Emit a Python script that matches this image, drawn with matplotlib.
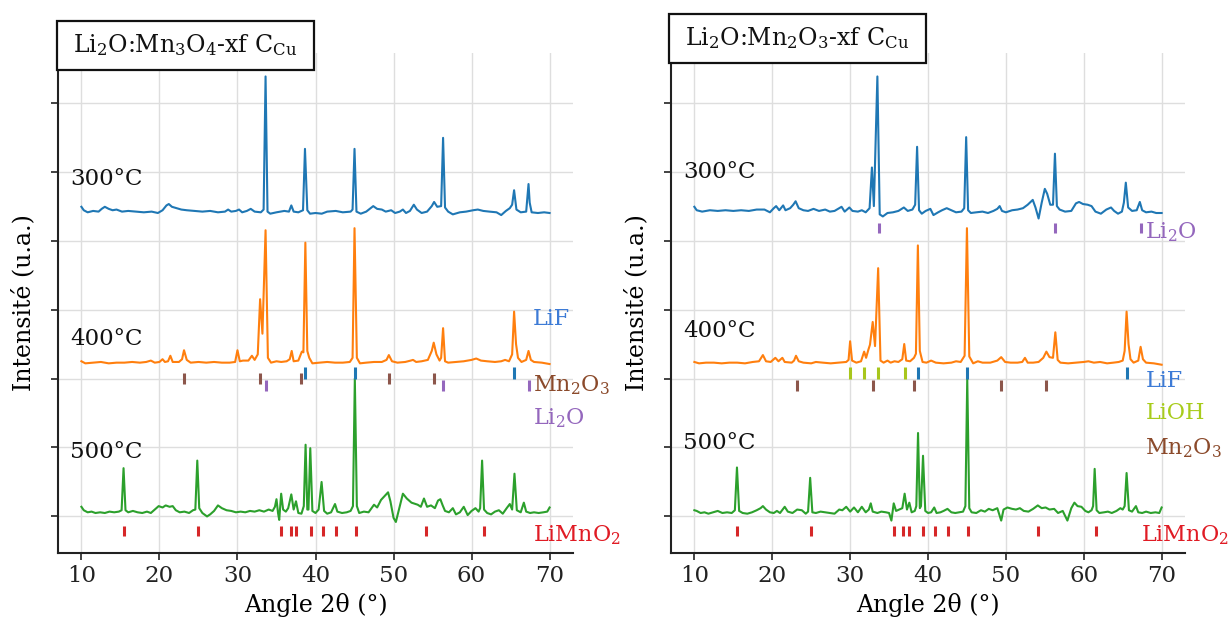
import matplotlib
matplotlib.use("Agg")
import matplotlib.pyplot as plt
from matplotlib.patches import Rectangle

plt.rcParams['font.family'] = ['DejaVu Serif']
plt.rcParams['mathtext.default'] = 'regular'

# ---------------- data ----------------
# Left panel: Li2O:Mn3O4-xf C_Cu
L300_x = [10.0, 10.3, 10.8, 11.5, 12.2, 12.6, 13.0, 13.5, 14.0, 14.5, 15.2, 16.0, 17.0, 18.0, 19.0, 19.8, 20.4, 20.9, 21.2, 21.6,
          22.2, 22.8, 23.5, 24.5, 25.5, 26.5, 27.5, 28.4, 28.8, 29.2, 29.8, 30.2, 30.6, 31.2, 31.7, 32.2, 33.0, 33.35, 33.6, 33.85,
          34.2, 35.0, 36.0, 36.6, 36.9, 37.2, 37.8, 38.4, 38.65, 38.95, 39.3, 40.0, 40.8, 41.5, 42.6, 43.5, 44.5, 44.75, 45.0, 45.25,
          45.8, 46.5, 47.4, 47.9, 48.5, 49.0, 49.7, 50.2, 50.8, 51.2, 51.6, 52.1, 52.6, 53.0, 53.6, 54.3, 54.9, 55.2, 55.6, 56.1,
          56.35, 56.6, 57.0, 57.6, 58.5, 59.3, 60.2, 60.8, 61.5, 62.3, 63.2, 63.8, 64.4, 64.9, 65.2, 65.45, 65.75, 66.3, 67.0, 67.3,
          67.45, 67.7, 68.5, 69.3, 70.0]
L300_y = [4.49, 4.44, 4.41, 4.43, 4.42, 4.46, 4.49, 4.46, 4.44, 4.45, 4.42, 4.43, 4.42, 4.41, 4.42, 4.40, 4.44, 4.51, 4.53, 4.49,
          4.47, 4.45, 4.44, 4.43, 4.42, 4.43, 4.41, 4.42, 4.45, 4.42, 4.43, 4.45, 4.41, 4.43, 4.46, 4.42, 4.41, 4.45, 6.38, 4.42,
          4.39, 4.41, 4.43, 4.42, 4.51, 4.42, 4.41, 4.44, 5.33, 4.44, 4.39, 4.40, 4.39, 4.42, 4.43, 4.41, 4.42, 4.45, 5.33, 4.42,
          4.39, 4.42, 4.50, 4.46, 4.45, 4.42, 4.44, 4.40, 4.42, 4.45, 4.40, 4.43, 4.52, 4.45, 4.40, 4.42, 4.50, 4.56, 4.49, 4.50,
          5.49, 4.48, 4.42, 4.38, 4.41, 4.42, 4.44, 4.45, 4.43, 4.42, 4.41, 4.37, 4.43, 4.47, 4.52, 4.73, 4.45, 4.41, 4.42, 4.82,
          4.55, 4.41, 4.40, 4.41, 4.40]

L400_x = [10.0, 10.5, 11.5, 12.5, 13.5, 14.5, 15.5, 16.5, 17.5, 18.3, 18.9, 19.4, 20.0, 20.4, 20.7, 21.1, 21.4, 21.7, 22.5, 22.9,
          23.15, 23.5, 24.0, 25.0, 26.0, 27.0, 28.0, 29.0, 29.7, 30.0, 30.3, 30.7, 31.4, 31.85, 32.2, 32.6, 32.9, 33.2, 33.6, 33.9,
          34.3, 35.0, 35.6, 36.3, 36.7, 36.95, 37.2, 37.8, 38.25, 38.45, 38.7, 38.95, 39.2, 39.6, 40.5, 41.5, 42.5, 43.5, 44.4, 44.75,
          45.0, 45.3, 45.7, 46.5, 47.5, 48.5, 49.1, 49.4, 49.8, 50.5, 51.5, 52.2, 52.5, 52.9, 53.6, 54.4, 54.9, 55.15, 55.5, 55.9,
          56.1, 56.35, 56.6, 57.0, 58.0, 59.0, 60.0, 60.6, 61.2, 62.0, 63.0, 63.8, 64.3, 64.8, 65.2, 65.45, 65.7, 65.95, 66.4, 67.0,
          67.3, 67.6, 68.0, 69.0, 70.0]
L400_y = [2.25, 2.22, 2.23, 2.24, 2.22, 2.23, 2.23, 2.24, 2.23, 2.24, 2.26, 2.23, 2.24, 2.28, 2.24, 2.25, 2.33, 2.24, 2.24, 2.28,
          2.41, 2.27, 2.23, 2.24, 2.23, 2.24, 2.23, 2.23, 2.24, 2.41, 2.25, 2.26, 2.26, 2.33, 2.27, 2.35, 3.15, 2.65, 4.15, 2.30,
          2.23, 2.25, 2.24, 2.25, 2.28, 2.40, 2.25, 2.26, 2.39, 2.38, 3.97, 2.40, 2.30, 2.22, 2.23, 2.24, 2.23, 2.23, 2.24, 2.30,
          4.18, 2.30, 2.22, 2.23, 2.24, 2.24, 2.27, 2.34, 2.25, 2.23, 2.24, 2.26, 2.27, 2.24, 2.25, 2.27, 2.40, 2.52, 2.35, 2.26,
          2.30, 2.73, 2.25, 2.23, 2.24, 2.25, 2.27, 2.29, 2.26, 2.25, 2.24, 2.25, 2.27, 2.25, 2.35, 2.97, 2.50, 2.30, 2.24, 2.27,
          2.40, 2.27, 2.24, 2.23, 2.21]

L500_x = [10.0, 10.3, 10.8, 11.3, 11.8, 12.4, 13.0, 13.6, 14.2, 14.8, 15.15, 15.4, 15.65, 16.0, 16.6, 17.2, 17.8, 18.4, 18.9, 19.4,
          19.9, 20.4, 20.8, 21.3, 21.7, 22.1, 22.6, 23.2, 23.8, 24.3, 24.6, 24.85, 25.1, 25.5, 26.1, 26.5, 27.0, 27.5, 28.0, 28.6,
          29.2, 29.8, 30.4, 31.0, 31.6, 32.2, 32.8, 33.4, 34.0, 34.5, 34.8, 35.0, 35.2, 35.35, 35.6, 35.85, 36.2, 36.5, 36.9, 37.2,
          37.5, 37.8, 38.2, 38.5, 38.73, 38.95, 39.1, 39.33, 39.6, 40.0, 40.4, 40.78, 41.1, 41.5, 42.0, 42.5, 42.8, 43.4, 44.0, 44.5,
          44.8, 45.04, 45.3, 45.6, 46.2, 46.8, 47.5, 47.9, 48.4, 48.9, 49.3, 49.6, 50.0, 50.3, 50.7, 51.2, 51.7, 52.3, 53.1, 53.5,
          53.9, 54.3, 54.8, 55.3, 55.7, 56.0, 56.3, 56.6, 57.1, 57.6, 58.0, 58.5, 59.0, 59.5, 60.0, 60.5, 60.9, 61.1, 61.35, 61.6,
          62.0, 62.5, 63.0, 63.5, 64.0, 64.5, 64.9, 65.2, 65.5, 65.8, 66.3, 66.7, 67.0, 67.5, 68.0, 68.6, 69.2, 69.7, 70.0]
L500_y = [0.14, 0.09, 0.06, 0.07, 0.05, 0.06, 0.05, 0.07, 0.06, 0.07, 0.09, 0.70, 0.09, 0.06, 0.08, 0.06, 0.05, 0.07, 0.05, 0.10,
          0.15, 0.13, 0.16, 0.14, 0.15, 0.09, 0.06, 0.07, 0.05, 0.09, 0.10, 0.81, 0.12, 0.05, 0.00, 0.03, 0.08, 0.16, 0.12, 0.09,
          0.08, 0.06, 0.07, 0.06, 0.08, 0.07, 0.09, 0.07, 0.10, 0.08, 0.14, 0.25, 0.05, -0.05, 0.33, 0.10, 0.07, 0.12, 0.32, 0.10,
          0.22, 0.05, 0.04, 0.15, 1.04, 0.10, 0.10, 0.99, 0.08, 0.05, 0.10, 0.50, 0.08, 0.04, 0.06, 0.18, 0.07, 0.05, 0.06, 0.08,
          0.15, 2.00, 0.15, 0.05, 0.07, 0.06, 0.17, 0.13, 0.24, 0.30, 0.35, 0.22, -0.02, -0.08, 0.10, 0.33, 0.26, 0.20, 0.17, 0.14,
          0.26, 0.14, 0.16, 0.12, 0.23, 0.25, 0.16, 0.08, 0.06, 0.12, 0.03, 0.06, 0.14, 0.02, 0.08, 0.12, 0.07, 0.12, 0.81, 0.10,
          0.05, 0.03, 0.07, 0.09, 0.04, 0.12, 0.18, 0.10, 0.62, 0.09, 0.06, 0.20, 0.07, 0.05, 0.06, 0.05, 0.06, 0.07, 0.13]

# Right panel: Li2O:Mn2O3-xf C_Cu
R300_x = [10.0, 10.3, 11.0, 12.0, 13.0, 14.0, 15.0, 16.0, 17.0, 18.0, 19.0, 19.7, 20.2, 20.5, 20.9, 21.4, 21.7, 22.3, 22.7, 23.0,
          23.4, 24.0, 24.6, 25.3, 26.0, 26.8, 27.4, 28.0, 28.6, 28.9, 29.3, 29.9, 30.3, 31.0, 31.5, 32.0, 32.5, 32.8, 33.05, 33.5,
          33.8, 34.2, 34.8, 35.5, 36.2, 36.9, 37.4, 38.0, 38.35, 38.6, 38.85, 39.2, 39.7, 40.3, 40.7, 41.3, 41.8, 42.4, 43.0, 43.6,
          44.3, 44.65, 44.9, 45.15, 45.5, 46.2, 47.0, 47.7, 48.4, 48.9, 49.2, 49.5, 50.0, 50.8, 51.5, 52.2, 52.8, 53.45, 53.8, 54.2,
          54.6, 55.0, 55.3, 55.7, 56.05, 56.3, 56.55, 56.9, 57.6, 58.4, 59.0, 59.4, 59.9, 60.5, 61.0, 61.5, 62.2, 62.9, 63.5, 63.9,
          64.4, 64.9, 65.15, 65.4, 65.7, 66.2, 66.8, 67.2, 67.5, 68.0, 68.7, 69.3, 70.0]
R300_y = [4.49, 4.44, 4.42, 4.44, 4.43, 4.44, 4.43, 4.44, 4.43, 4.45, 4.45, 4.41, 4.47, 4.50, 4.44, 4.51, 4.44, 4.47, 4.52, 4.57,
          4.47, 4.44, 4.43, 4.46, 4.43, 4.45, 4.42, 4.43, 4.47, 4.49, 4.42, 4.48, 4.43, 4.42, 4.44, 4.41, 4.47, 5.06, 4.50, 6.38,
          4.38, 4.35, 4.40, 4.41, 4.43, 4.48, 4.43, 4.45, 4.52, 5.36, 4.44, 4.39, 4.43, 4.46, 4.37, 4.41, 4.44, 4.47, 4.44, 4.41,
          4.42, 4.47, 5.50, 4.44, 4.40, 4.41, 4.42, 4.40, 4.43, 4.46, 4.50, 4.43, 4.41, 4.44, 4.45, 4.47, 4.52, 4.59, 4.48, 4.32,
          4.55, 4.75, 4.68, 4.52, 4.52, 5.26, 4.50, 4.45, 4.42, 4.43, 4.54, 4.56, 4.53, 4.52, 4.50, 4.42, 4.39, 4.45, 4.48, 4.43,
          4.39, 4.42, 4.55, 4.84, 4.48, 4.43, 4.44, 4.56, 4.44, 4.41, 4.42, 4.40, 4.40]

R400_x = [10.0, 10.6, 11.5, 12.5, 13.5, 14.5, 15.5, 16.5, 17.5, 18.3, 18.8, 19.2, 19.8, 20.4, 20.8, 21.3, 21.6, 22.5, 22.8, 23.05,
          23.4, 24.0, 25.0, 25.6, 26.5, 27.5, 28.5, 29.5, 29.8, 30.0, 30.25, 30.8, 31.4, 31.8, 32.05, 32.35, 32.55, 32.9, 33.2, 33.6,
          33.9, 34.3, 34.8, 35.2, 35.7, 36.2, 36.7, 36.95, 37.2, 37.7, 38.2, 38.45, 38.7, 38.95, 39.3, 39.8, 40.4, 41.0, 42.0, 43.0,
          43.6, 44.2, 44.7, 45.0, 45.3, 45.8, 46.4, 47.0, 48.0, 48.9, 49.4, 49.9, 50.6, 51.5, 52.1, 52.45, 52.8, 53.5, 54.2, 54.8,
          55.2, 55.6, 56.05, 56.35, 56.65, 57.0, 58.0, 59.0, 60.0, 60.6, 61.3, 62.1, 63.0, 63.8, 64.5, 65.0, 65.25, 65.5, 65.75, 66.0,
          66.4, 67.0, 67.3, 67.6, 68.0, 69.0, 70.0]
R400_y = [2.24, 2.22, 2.23, 2.23, 2.22, 2.23, 2.23, 2.22, 2.24, 2.25, 2.34, 2.25, 2.24, 2.30, 2.25, 2.30, 2.24, 2.23, 2.26, 2.33,
          2.25, 2.23, 2.22, 2.24, 2.23, 2.22, 2.23, 2.24, 2.27, 2.54, 2.26, 2.23, 2.25, 2.39, 2.30, 2.42, 2.49, 2.82, 2.47, 3.60,
          2.26, 2.23, 2.26, 2.23, 2.25, 2.24, 2.28, 2.50, 2.26, 2.25, 2.30, 2.36, 3.93, 2.40, 2.24, 2.23, 2.26, 2.23, 2.22, 2.23,
          2.25, 2.24, 2.33, 4.18, 2.32, 2.22, 2.25, 2.23, 2.23, 2.26, 2.31, 2.24, 2.23, 2.23, 2.24, 2.30, 2.23, 2.23, 2.24, 2.30,
          2.39, 2.31, 2.30, 2.67, 2.27, 2.23, 2.22, 2.23, 2.24, 2.25, 2.23, 2.24, 2.22, 2.23, 2.24, 2.26, 2.40, 2.97, 2.50, 2.28,
          2.23, 2.26, 2.46, 2.28, 2.23, 2.22, 2.20]

R500_x = [10.0, 10.3, 10.8, 11.3, 11.8, 12.4, 13.0, 13.6, 14.2, 14.8, 15.2, 15.47, 15.75, 16.2, 16.8, 17.4, 18.0, 18.5, 18.8, 19.2,
          19.7, 20.2, 20.6, 21.0, 21.6, 22.0, 22.6, 23.2, 23.8, 24.3, 24.6, 24.87, 25.15, 25.6, 26.2, 26.8, 27.4, 28.0, 28.6, 29.0,
          29.5, 30.0, 30.5, 31.0, 31.5, 32.0, 32.4, 32.65, 32.9, 33.5, 34.0, 34.6, 35.0, 35.3, 35.6, 35.9, 36.3, 36.7, 37.0, 37.3,
          37.6, 37.9, 38.3, 38.5, 38.72, 38.95, 39.1, 39.36, 39.65, 40.0, 40.4, 40.8, 41.1, 41.6, 42.0, 42.5, 43.0, 43.5, 44.0, 44.5,
          44.8, 45.04, 45.3, 45.6, 46.2, 46.8, 47.3, 47.8, 48.3, 48.9, 49.4, 49.7, 50.2, 50.8, 51.3, 51.8, 52.3, 52.9, 53.5, 54.1,
          54.6, 55.1, 55.6, 56.2, 56.7, 57.3, 57.9, 58.4, 58.8, 59.2, 59.7, 60.2, 60.6, 61.0, 61.2, 61.4, 61.65, 62.0, 62.6, 63.1,
          63.6, 64.2, 64.7, 65.0, 65.25, 65.5, 65.8, 66.2, 66.7, 67.0, 67.5, 68.0, 68.6, 69.2, 69.7, 70.0]
R500_y = [0.09, 0.08, 0.05, 0.06, 0.04, 0.06, 0.08, 0.05, 0.06, 0.05, 0.09, 0.71, 0.08, 0.05, 0.04, 0.06, 0.09, 0.12, 0.15, 0.10,
          0.06, 0.05, 0.08, 0.05, 0.14, 0.07, 0.05, 0.10, 0.09, 0.04, 0.07, 0.56, 0.06, 0.05, 0.07, 0.06, 0.05, 0.04, 0.10, 0.09,
          0.14, 0.07, 0.13, 0.06, 0.14, 0.06, 0.10, 0.19, 0.07, 0.05, 0.07, 0.06, 0.05, -0.06, 0.19, 0.08, 0.10, 0.12, 0.33, 0.10,
          0.20, 0.06, 0.08, 0.15, 1.21, 0.12, 0.15, 0.88, 0.08, 0.05, 0.06, 0.13, 0.05, 0.06, 0.08, 0.11, 0.06, 0.05, 0.06, 0.07,
          0.15, 2.00, 0.12, 0.06, 0.05, 0.09, 0.07, 0.11, 0.09, 0.12, -0.06, 0.10, 0.13, 0.11, 0.10, 0.12, 0.08, 0.07, 0.11, 0.16,
          0.12, 0.13, 0.10, 0.11, 0.05, 0.08, -0.06, 0.12, 0.20, 0.15, 0.14, 0.08, 0.06, 0.09, 0.15, 0.69, 0.09, 0.05, 0.06, 0.07,
          0.05, 0.08, 0.12, 0.10, 0.15, 0.63, 0.09, 0.07, 0.15, 0.06, 0.05, 0.07, 0.05, 0.06, 0.05, 0.13]

# reference peak positions (2theta)
ref_LiF = [38.7, 45.0, 65.5]
ref_Mn2O3 = [23.2, 32.9, 38.2, 49.4, 55.2]
ref_Li2O = [33.7, 56.3, 67.3]
ref_LiOH = [30.0, 31.8, 33.6, 37.0]
ref_LiMnO2 = [15.5, 25.0, 35.6, 36.8, 37.5, 39.4, 40.9, 42.6, 45.2, 54.1, 61.6]

temperatures = ["300°C", "400°C", "500°C"]
xticks = [10, 20, 30, 40, 50, 60, 70]
titles = ["Li$_2$O:Mn$_3$O$_4$-xf C$_{Cu}$", "Li$_2$O:Mn$_2$O$_3$-xf C$_{Cu}$"]

# ---------------- styling ----------------
C_BLUE, C_ORANGE, C_GREEN = '#1f77b4', '#ff7f0e', '#2ca02c'
C_RED, C_BROWN, C_PURPLE, C_OLIVE = '#d62728', '#8c564b', '#9467bd', '#a8c61c'
LBL_LIF, LBL_MN, LBL_LIOH, LBL_RED = '#3d7bd6', '#8b4a2b', '#a8cc1c', '#e01b24'

W, H = 1229, 623
fig = plt.figure(figsize=(W / 100, H / 100), dpi=100)
axL = fig.add_axes([58 / W, 1 - 553 / H, 515 / W, 500 / H])
axR = fig.add_axes([671 / W, 1 - 553 / H, 514 / W, 500 / H])

FS = 16.5

def setup(ax):
    ax.set_xlim(7, 73)
    ax.set_ylim(-0.53, 6.72)
    ax.set_xticks(xticks)
    ax.set_yticks([0, 1, 2, 3, 4, 5, 6])
    ax.set_yticklabels([])
    ax.grid(True, color='#dedede', lw=1.0)
    ax.set_axisbelow(True)
    for s in ['top', 'right']:
        ax.spines[s].set_visible(False)
    for s in ['left', 'bottom']:
        ax.spines[s].set_linewidth(1.5)
        ax.spines[s].set_color('#222222')
    ax.tick_params(axis='both', length=5, width=1.2, labelsize=FS, pad=4, colors='#222222')
    ax.set_xlabel("Angle 2θ (°)", fontsize=17)
    ax.set_ylabel("Intensité (u.a.)", fontsize=17)
    ax.xaxis.set_label_coords(0.5, -0.08)
    ax.yaxis.set_label_coords(-0.044, 0.5)

for ax in (axL, axR):
    setup(ax)

LW = 1.5
# left curves
axL.plot(L300_x, L300_y, color=C_BLUE, lw=LW)
axL.plot(L400_x, L400_y, color=C_ORANGE, lw=LW)
axL.plot(L500_x, L500_y, color=C_GREEN, lw=LW)
# right curves
axR.plot(R300_x, R300_y, color=C_BLUE, lw=LW)
axR.plot(R400_x, R400_y, color=C_ORANGE, lw=LW)
axR.plot(R500_x, R500_y, color=C_GREEN, lw=LW)

TW = 2.2
# left reference ticks
axL.vlines(ref_LiF, 2.0, 2.17, color=C_BLUE, lw=TW)
axL.vlines(ref_Mn2O3, 1.92, 2.08, color=C_BROWN, lw=TW)
axL.vlines(ref_Li2O, 1.82, 1.98, color=C_PURPLE, lw=TW)
axL.vlines(ref_LiMnO2, -0.29, -0.14, color=C_RED, lw=TW)
# right reference ticks
axR.vlines(ref_Li2O, 4.11, 4.25, color=C_PURPLE, lw=TW)
axR.vlines(ref_LiOH, 2.0, 2.17, color=C_OLIVE, lw=TW)
axR.vlines(ref_LiF, 2.0, 2.17, color=C_BLUE, lw=TW)
axR.vlines(ref_Mn2O3, 1.82, 1.98, color=C_BROWN, lw=TW)
axR.vlines(ref_LiMnO2, -0.29, -0.14, color=C_RED, lw=TW)

# phase labels
kw = dict(fontsize=16, va='center', ha='left', clip_on=False)
axL.text(67.9, 2.86, "LiF", color=LBL_LIF, **kw)
axL.text(67.9, 1.90, "Mn$_2$O$_3$", color=LBL_MN, **kw)
axL.text(67.9, 1.43, "Li$_2$O", color=C_PURPLE, **kw)
axL.text(67.9, -0.27, "LiMnO$_2$", color=LBL_RED, **kw)
axR.text(67.9, 4.12, "Li$_2$O", color=C_PURPLE, **kw)
axR.text(67.9, 1.96, "LiF", color=LBL_LIF, **kw)
axR.text(67.9, 1.50, "LiOH", color=LBL_LIOH, **kw)
axR.text(67.9, 0.99, "Mn$_2$O$_3$", color=LBL_MN, **kw)
axR.text(67.4, -0.27, "LiMnO$_2$", color=LBL_RED, **kw)

# temperature labels
for ax, ys in ((axL, [4.89, 2.57, 0.93]), (axR, [5.0, 2.69, 1.06])):
    for t, yv in zip(temperatures, ys):
        ax.text(8.6, yv, t, fontsize=FS, va='center', ha='left', color='#111111')

# title boxes (figure pixel coords)
for (x0, x1, y0, y1), title in zip([(57, 314, 21, 70), (669, 926, 14, 63)], titles):
    fig.patches.append(Rectangle((x0 / W, 1 - y1 / H), (x1 - x0) / W, (y1 - y0) / H,
                                 transform=fig.transFigure, facecolor='white',
                                 edgecolor='#111111', lw=1.6, zorder=5))
    fig.text((x0 + x1) / 2 / W, 1 - (y0 + y1) / 2 / H, title, fontsize=17,
             ha='center', va='center', zorder=6, color='#111111')

fig.savefig("out.png", dpi=100)
